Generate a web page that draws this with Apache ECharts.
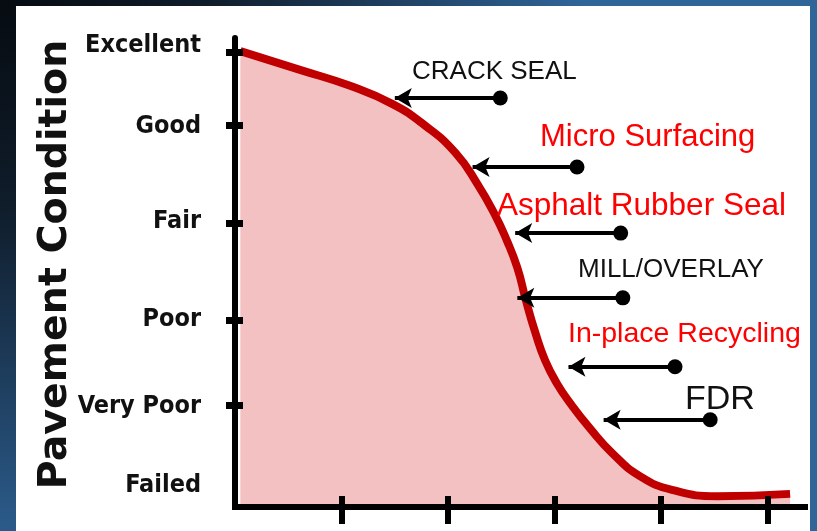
<!DOCTYPE html>
<html>
<head>
<meta charset="utf-8">
<script src="https://cdn.jsdelivr.net/npm/echarts@6/dist/echarts.min.js"></script>
<style>
    html, body { margin: 0; padding: 0; }
    #chart { width: 817px; height: 531px; }
</style>
</head>
<body>
<div id="chart"></div>
<script>
    // condition scale (y in 0..100 units)
    var conditions = ['Failed', 'Very Poor', 'Poor', 'Fair', 'Good', 'Excellent'];
    var labelLevels = [4.5, 21.5, 39.9, 60.8, 81.2, 98.5];
    var tickLevels = [21.7, 39.9, 60.6, 81.4, 97.0];
    var ageTicks = [1, 2, 3, 4, 5];

    // deterioration curve
    var curveAge = [0.05, 0.61, 1.08, 1.48, 1.78, 2.07, 2.28, 2.44, 2.55, 2.65, 2.73, 2.82, 2.91, 3.02, 3.16, 3.33, 3.54, 3.80, 4.11, 4.53, 5.21];
    var curveCond = [97.2, 93.2, 89.8, 85.9, 81.4, 75.5, 68.7, 62.3, 56.9, 51.0, 44.1, 37.1, 31.3, 26.4, 21.7, 16.8, 11.5, 6.6, 3.6, 2.3, 2.8];

    // treatments: arrow from dot to tip at a condition level
    var treatments = ['CRACK SEAL', 'Micro Surfacing', 'Asphalt Rubber Seal', 'MILL/OVERLAY', 'In-place Recycling', 'FDR'];
    var treatmentLevel = [87.2, 72.5, 58.4, 44.6, 29.9, 18.6];
    var arrowTip = [1.50, 2.23, 2.63, 2.65, 3.13, 3.46];
    var arrowDot = [2.49, 3.21, 3.62, 3.64, 4.13, 4.46];

    var chart = echarts.init(document.getElementById('chart'));

    var curveData = curveAge.map(function (x, i) { return [x, curveCond[i]]; });
    var arrows = treatments.map(function (name, i) {
        return [{ coord: [arrowDot[i], treatmentLevel[i]] }, { coord: [arrowTip[i], treatmentLevel[i]] }];
    });

    // label styles for the treatment texts
    var textSpecs = [
        { x: 412, y: 72, size: 26, color: '#111' },
        { x: 540, y: 137, size: 31, color: '#ff0000' },
        { x: 497, y: 206, size: 31.5, color: '#ff0000' },
        { x: 578, y: 270, size: 26, color: '#111' },
        { x: 568, y: 334, size: 28.5, color: '#ff0000' },
        { x: 685, y: 400, size: 34, color: '#111' }
    ];

    var graphics = [
        {
            type: 'rect', z: -100, silent: true,
            shape: { x: 0, y: 0, width: 817, height: 531 },
            style: {
                fill: new echarts.graphic.RadialGradient(0, 0, 1.1, [
                    { offset: 0, color: '#060b11' },
                    { offset: 0.35, color: '#0f1c2a' },
                    { offset: 1, color: '#30659a' }
                ])
            }
        },
        {
            type: 'rect', z: -99, silent: true,
            shape: { x: 16, y: 6, width: 794, height: 525 },
            style: { fill: '#ffffff' }
        }
    ];
    treatments.forEach(function (name, i) {
        var s = textSpecs[i];
        graphics.push({
            type: 'text', z: 100, left: s.x, top: s.y - s.size / 2,
            style: {
                text: name,
                fill: s.color,
                font: s.size + 'px "Liberation Sans", Arial, sans-serif'
            }
        });
    });

    var option = {
        animation: false,
        graphic: graphics,
        grid: { left: 235, right: 12, top: 38, bottom: 24 },
        xAxis: [
            {
                type: 'value', min: 0, max: 5.35, interval: 1, z: 10,
                axisLine: { lineStyle: { color: '#000', width: 6, cap: 'square' } },
                axisTick: { customValues: ageTicks, length: 17, lineStyle: { color: '#000', width: 6 } },
                axisLabel: { show: false },
                splitLine: { show: false }
            },
            {
                type: 'value', min: 0, max: 5.35, interval: 1, position: 'bottom', z: 10,
                axisLine: { show: false },
                axisTick: { customValues: ageTicks, inside: true, length: 11, lineStyle: { color: '#000', width: 6 } },
                axisLabel: { show: false },
                splitLine: { show: false }
            }
        ],
        yAxis: [
            {
                type: 'value', min: 0, max: 100, z: 10,
                name: 'Pavement Condition',
                nameLocation: 'middle',
                nameGap: 159,
                nameRotate: 90,
                nameMoveOverlap: false,
                nameTextStyle: {
                    fontFamily: 'DejaVu Sans', fontWeight: 'bold', fontSize: 39.5, color: '#111',
                    padding: [0, 0, 0, 16]
                },
                axisLine: { lineStyle: { color: '#000', width: 6 } },
                axisTick: { customValues: tickLevels, length: 9, lineStyle: { color: '#000', width: 7 } },
                axisLabel: {
                    customValues: labelLevels,
                    margin: 34,
                    fontFamily: '"DejaVu Sans Condensed", sans-serif',
                    fontWeight: 'bold',
                    fontSize: 25,
                    color: '#111',
                    formatter: function (v) {
                        var i = labelLevels.indexOf(v);
                        return i >= 0 ? conditions[i] : '';
                    }
                },
                splitLine: { show: false }
            },
            {
                type: 'value', min: 0, max: 100, position: 'left', z: 10,
                axisLine: { show: false },
                axisTick: { customValues: tickLevels, inside: true, length: 8, lineStyle: { color: '#000', width: 7 } },
                axisLabel: { show: false },
                splitLine: { show: false }
            }
        ],
        series: [
            {
                type: 'line',
                data: curveData,
                smooth: 0.5,
                symbol: 'none',
                lineStyle: { color: '#c00000', width: 8 },
                areaStyle: { color: '#f4c1c3', opacity: 1 },
                markLine: {
                    silent: true,
                    symbol: ['circle', 'arrow'],
                    symbolSize: [15, 17],
                    lineStyle: { color: '#000', width: 4, type: 'solid' },
                    label: { show: false },
                    data: arrows
                }
            }
        ]
    };

    chart.setOption(option);
</script>
</body>
</html>
